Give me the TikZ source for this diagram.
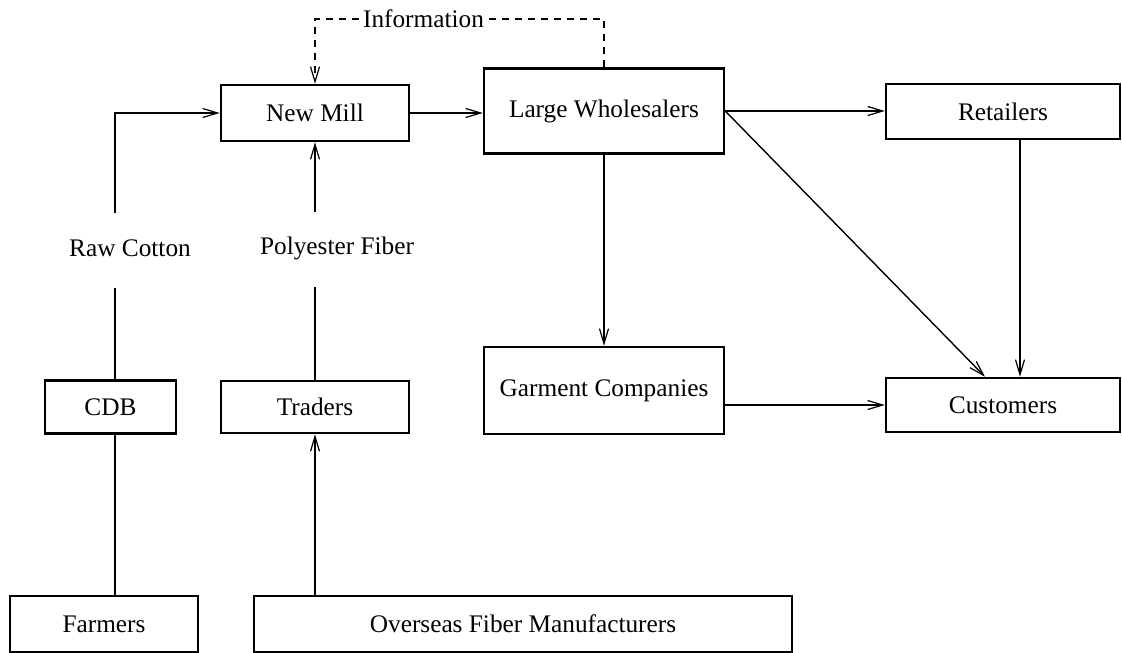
\documentclass[tikz,border=0pt]{standalone}
\usepackage{fontspec}
\setmainfont{Liberation Serif}
\usetikzlibrary{arrows.meta,calc}
\begin{document}
\begin{tikzpicture}[x=1pt,y=-1pt,
  txt/.style={font=\fontsize{25.3}{30}\selectfont},
  box/.style={txt, draw, line width=2.5pt, inner sep=0pt},
  lbl/.style={txt, inner sep=0pt},
  barb/.style={-{Straight Barb[length=15pt,width=9pt,line width=1.2pt]}},
  flow/.style={line width=1.4pt, barb},
  plain/.style={line width=1.4pt},
  info/.style={line width=1.2pt, dash pattern=on 7pt off 6pt}]
\useasboundingbox (0,0) rectangle (1122,653);

% boxes
\node[box, minimum width=188pt, minimum height=56pt] (nm) at (315,113) {New Mill};
\node[box, minimum width=240pt, minimum height=85pt] (lw) at (604,111) {Large Wholesalers};
\node[box, minimum width=234pt, minimum height=55pt] (re) at (1003,111.5) {Retailers};
\node[box, minimum width=240pt, minimum height=87pt] (gc) at (604,390.5) {Garment Companies};
\node[box, minimum width=234pt, minimum height=54pt] (cu) at (1003,405) {Customers};
\node[box, minimum width=131pt, minimum height=53pt] (cd) at (110.5,407) {CDB};
\node[box, minimum width=188pt, minimum height=52pt] (tr) at (315,407) {Traders};
\node[box, minimum width=188pt, minimum height=56pt] (fa) at (104,624) {Farmers};
\node[box, minimum width=538pt, minimum height=56pt] (ov) at (523,624) {Overseas Fiber Manufacturers};

% labels on the supply lines
\node[lbl] (rct) at (130,248) {Raw Cotton};
\node[lbl] (pft) at (337,248) {Polyester Fiber};
\node[lbl, fill=white, inner xsep=4pt] (inf) at (423.5,19) {Information};

% ends of the broken supply lines around their labels
\coordinate (rcA) at (115,288);
\coordinate (rcB) at (115,213);
\coordinate (pfA) at (315,287);
\coordinate (pfB) at (315,212);

% raw cotton route
\draw[plain] (fa.north -| rcA) -- (cd.south -| rcA);
\draw[plain] (cd.north -| rcA) -- (rcA);
\draw[flow] (rcB) |- (nm.west);

% polyester route
\draw[flow] (ov.north -| tr) -- (tr.south);
\draw[plain] (tr.north) -- (pfA);
\draw[flow] (pfB) -- (nm.south);

% distribution
\draw[flow] (nm.east) -- (nm.east -| lw.west);
\draw[flow] (lw.east) -- (lw.east -| re.west);
\draw[flow] (lw.south) -- (gc.north);
\draw[flow] (lw.east) -- ([xshift=-18pt]cu.north);
\draw[flow] ([xshift=17pt]re.south) -- ([xshift=17pt]cu.north);
\draw[flow] (cu.west -| gc.east) -- (cu.west);

% information feedback
\draw[info] (lw.north) |- (inf.east);
\draw[info, barb] (inf.west) -| (nm.north);
\end{tikzpicture}
\end{document}
